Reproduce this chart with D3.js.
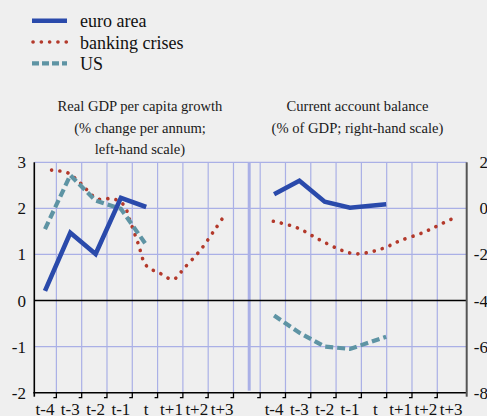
<!DOCTYPE html>
<html>
<head>
<meta charset="utf-8">
<script src="https://cdn.jsdelivr.net/npm/d3@7"></script>
<style>
  body { margin: 0; background: #efefef; }
  svg { display: block; font-family: "Liberation Serif", "DejaVu Serif", serif; }
</style>
</head>
<body>
<svg id="chart" width="487" height="416"></svg>
<script>

// x categories, one set per panel
const periods = ["t-4", "t-3", "t-2", "t-1", "t", "t+1", "t+2", "t+3"];
const periodTimes = [-4, -3, -2, -1, 0, 1, 2, 3];

// left panel: real GDP per capita growth (% per annum)
const gdpTimes = [-4, -3, -2, -1, 0];
const gdpEuro = [0.21, 1.47, 1.01, 2.23, 2.03];
const gdpUS = [1.55, 2.72, 2.17, 1.99, 1.21];
const gdpCrisisTimes = [-3.74, -3.1, -2.62, -1.93, -1.3, -0.88, -0.64, -0.32, 0, 0.55, 1.07, 1.51, 2.15, 2.69, 3.05];
const gdpCrisis = [2.83, 2.77, 2.56, 2.21, 2.21, 2.07, 1.73, 1.24, 0.76, 0.59, 0.46, 0.71, 1.1, 1.52, 1.81];

// right panel: current account balance (% of GDP)
const caTimes = [-4, -3, -2, -1, 0.43];
const caEuro = [0.61, 1.2, 0.29, 0.03, 0.18];
const caUS = [-4.65, -5.4, -6.0, -6.1, -5.57];
const caCrisisTimes = [-4.03, -3.09, -2.26, -1.42, -0.81, -0.18, 0.41, 0.99, 1.87, 2.45, 3.02];
const caCrisis = [-0.56, -0.84, -1.33, -1.78, -1.97, -1.89, -1.69, -1.4, -1.06, -0.76, -0.46];

// axis ticks
const leftTicks = [3, 2, 1, 0, -1, -2];
const rightTicks = [2, 0, -2, -4, -6, -8];

const legendItems = ["euro area", "banking crises", "US"];

const colors = { euro: "#2a4aab", crisis: "#b3392b", us: "#5e94a4", grid: "#aab0e6" };

const svg = d3.select("#chart");

const plotTop = 162.3, plotBottom = 392.7;
const leftAxisX = 34.3, rightAxisX = 466.7;

let yLeft = d3.scaleLinear().domain([-2, 3]).range([plotBottom, plotTop]);
let yRight = d3.scaleLinear().domain([-8, 2]).range([plotBottom, plotTop]);
let xLeft = d3.scaleLinear().domain([-4, 3]).range([45, 222.1]);
let xRight = d3.scaleLinear().domain([-4, 3]).range([274.1, 451.2]);

let grid = svg.append("g");

// horizontal gridlines span both panels
grid.selectAll("line.h")
  .data(leftTicks.filter(d => d != 0 && d != -2))
  .enter()
  .append("line")
  .attr("x1", leftAxisX)
  .attr("x2", rightAxisX)
  .attr("y1", d => yLeft(d))
  .attr("y2", d => yLeft(d))
  .attr("stroke", colors.grid)
  .attr("stroke-width", 1.2);

// vertical gridlines sit just right of each period
let leftGridX = periodTimes.map(t => xLeft(t + 0.45));
let rightGridX = [-5].concat(periodTimes.slice(0, 7)).map(t => xRight(t + 0.45));
let allGridX = leftGridX.concat(rightGridX);

grid.selectAll("line.v")
  .data(allGridX)
  .enter()
  .append("line")
  .attr("x1", d => d)
  .attr("x2", d => d)
  .attr("y1", plotTop)
  .attr("y2", plotBottom)
  .attr("stroke", colors.grid)
  .attr("stroke-width", 1.2);

// separator between the two panels
grid.append("line")
  .attr("x1", 249.2)
  .attr("x2", 249.2)
  .attr("y1", plotTop)
  .attr("y2", plotBottom - 2)
  .attr("stroke", colors.grid)
  .attr("stroke-width", 3);

// zero line and axes
svg.append("line")
  .attr("x1", leftAxisX)
  .attr("x2", rightAxisX)
  .attr("y1", yLeft(0))
  .attr("y2", yLeft(0))
  .attr("stroke", "#000")
  .attr("stroke-width", 1.5);

svg.append("line")
  .attr("x1", leftAxisX - 1)
  .attr("x2", rightAxisX)
  .attr("y1", plotBottom)
  .attr("y2", plotBottom)
  .attr("stroke", "#000")
  .attr("stroke-width", 1.6);

svg.append("line")
  .attr("x1", leftAxisX)
  .attr("x2", leftAxisX)
  .attr("y1", plotTop)
  .attr("y2", plotBottom + 4)
  .attr("stroke", "#000")
  .attr("stroke-width", 1.6);

svg.append("line")
  .attr("x1", rightAxisX)
  .attr("x2", rightAxisX)
  .attr("y1", plotTop)
  .attr("y2", plotBottom + 4)
  .attr("stroke", "#555")
  .attr("stroke-width", 2);

// small hooked ticks under the x axis
svg.selectAll("path.tick")
  .data(allGridX)
  .enter()
  .append("path")
  .attr("class", "tick")
  .attr("d", d => "M" + d + "," + plotBottom + "v5h-3")
  .attr("fill", "none")
  .attr("stroke", "#000")
  .attr("stroke-width", 1.3);

// y labels
svg.selectAll("text.yl")
  .data(leftTicks)
  .enter()
  .append("text")
  .attr("x", 26)
  .attr("y", d => yLeft(d) + 6)
  .attr("text-anchor", "end")
  .attr("font-size", "17px")
  .attr("fill", "#111")
  .text(d => d);

svg.selectAll("text.yr")
  .data(rightTicks)
  .enter()
  .append("text")
  .attr("x", 488)
  .attr("y", d => yRight(d) + 6)
  .attr("text-anchor", "end")
  .attr("font-size", "17px")
  .attr("fill", "#111")
  .text(d => d);

// x labels for both panels
[xLeft, xRight].forEach(xs => {
  svg.append("g").selectAll("text")
    .data(periods)
    .enter()
    .append("text")
    .attr("x", (d, i) => xs(periodTimes[i]))
    .attr("y", 415)
    .attr("text-anchor", "middle")
    .attr("font-size", "17px")
    .attr("fill", "#111")
    .text(d => d);
});

// panel titles
let addTitle = (cx, lines) => {
  svg.append("g").selectAll("text")
    .data(lines)
    .enter()
    .append("text")
    .attr("x", cx)
    .attr("y", (d, i) => 111 + i * 21.5)
    .attr("text-anchor", "middle")
    .attr("font-size", "14.6px")
    .attr("fill", "#1a1a1a")
    .text(d => d);
};
addTitle(140, ["Real GDP per capita growth", "(% change per annum;", "left-hand scale)"]);
addTitle(357.5, ["Current account balance", "(% of GDP; right-hand scale)"]);

// series styles
const styles = {
  euro: { stroke: colors.euro, width: 4.6, dash: null, cap: "butt" },
  crisis: { stroke: colors.crisis, width: 3.6, dash: "0.1 8.2", cap: "round" },
  us: { stroke: colors.us, width: 4.2, dash: "8 4", cap: "butt" }
};

let drawSeries = (xs, ys, times, values, style, smooth) => {
  let line = d3.line()
    .x((d, i) => xs(times[i]))
    .y(d => ys(d));
  if (smooth) line.curve(d3.curveCatmullRom.alpha(0.5));
  svg.append("path")
    .datum(values)
    .attr("d", line)
    .attr("fill", "none")
    .attr("stroke", style.stroke)
    .attr("stroke-width", style.width)
    .attr("stroke-linecap", style.cap)
    .attr("stroke-linejoin", "miter")
    .attr("stroke-dasharray", style.dash);
};

drawSeries(xLeft, yLeft, gdpCrisisTimes, gdpCrisis, styles.crisis, true);
drawSeries(xLeft, yLeft, gdpTimes, gdpUS, styles.us, false);
drawSeries(xLeft, yLeft, gdpTimes, gdpEuro, styles.euro, false);

drawSeries(xRight, yRight, caCrisisTimes, caCrisis, styles.crisis, true);
drawSeries(xRight, yRight, caTimes, caUS, styles.us, false);
drawSeries(xRight, yRight, caTimes, caEuro, styles.euro, false);

// legend
let legendKeys = ["euro", "crisis", "us"];
let legend = svg.append("g");

legend.selectAll("line")
  .data(legendKeys)
  .enter()
  .append("line")
  .attr("x1", d => d == "crisis" ? 33 : 32)
  .attr("x2", 67)
  .attr("y1", (d, i) => 20.7 + i * 21.3)
  .attr("y2", (d, i) => 20.7 + i * 21.3)
  .attr("stroke", d => styles[d].stroke)
  .attr("stroke-width", d => styles[d].width)
  .attr("stroke-linecap", d => styles[d].cap)
  .attr("stroke-dasharray", d => d == "us" ? "7 3" : styles[d].dash);

legend.selectAll("text")
  .data(legendItems)
  .enter()
  .append("text")
  .attr("x", 80)
  .attr("y", (d, i) => 27.3 + i * 21.3)
  .attr("font-size", "18px")
  .attr("fill", "#111")
  .text(d => d);

</script>
</body>
</html>
